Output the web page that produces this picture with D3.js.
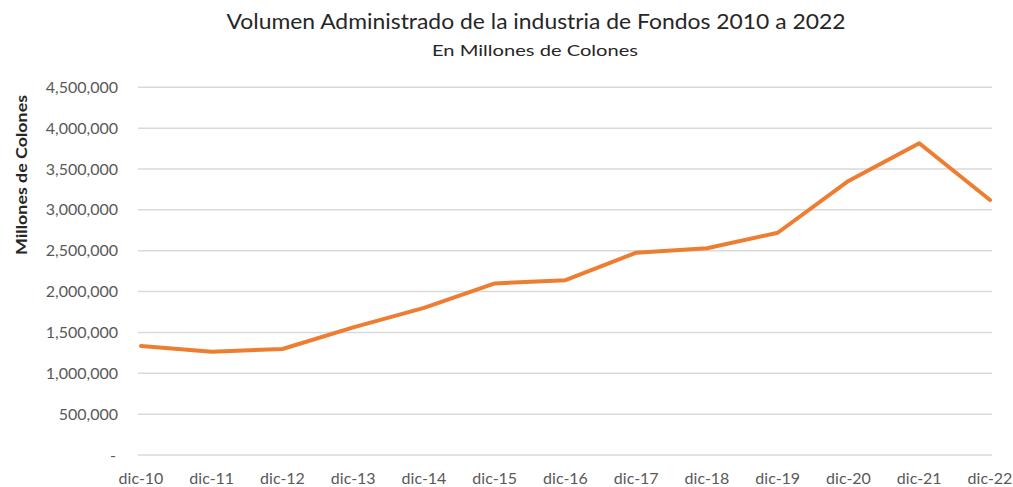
<!DOCTYPE html>
<html>
<head>
<meta charset="utf-8">
<script src="https://cdn.jsdelivr.net/npm/d3@7"></script>
<style>
body{margin:0;background:#fff;}
svg{display:block;font-family:Lato,"Open Sans",sans-serif;}
</style>
</head>
<body>
<script>
var categories=["dic-10","dic-11","dic-12","dic-13","dic-14","dic-15","dic-16","dic-17","dic-18","dic-19","dic-20","dic-21","dic-22"];
var values=[1334000,1264000,1297000,1562000,1800000,2100000,2140000,2476000,2530000,2720000,3354000,3815000,3120000];
var yTicks=[0,500000,1000000,1500000,2000000,2500000,3000000,3500000,4000000,4500000];

var width=1013;
var height=487;
var svg=d3.select("body")
    .append("svg")
    .attr("width",width)
    .attr("height",height);

var x=d3.scalePoint()
    .domain(categories)
    .range([141,990]);
var y=d3.scaleLinear()
    .domain([0,4500000])
    .range([455,87.3]);

// gridlines
svg.selectAll("line.grid")
    .data(yTicks)
    .enter()
    .append("line")
    .attr("class","grid")
    .attr("x1",138)
    .attr("x2",992)
    .attr("y1",function(d){return y(d);})
    .attr("y2",function(d){return y(d);})
    .attr("stroke","#d9d9d9")
    .attr("stroke-width",1.5);

// y tick labels
var fmt=d3.format(",");
svg.selectAll("text.ylab")
    .data(yTicks)
    .enter()
    .append("text")
    .attr("class","ylab")
    .attr("x",function(d){return d===0?116:118;})
    .attr("y",function(d){return y(d);})
    .attr("dy","0.35em")
    .attr("text-anchor","end")
    .attr("font-size","16px")
    .attr("fill","#595959")
    .text(function(d){return d===0?"-":fmt(d);});

// x tick labels
svg.selectAll("text.xlab")
    .data(categories)
    .enter()
    .append("text")
    .attr("class","xlab")
    .attr("x",function(d){return x(d);})
    .attr("y",478)
    .attr("dy","0.35em")
    .attr("text-anchor","middle")
    .attr("font-size","16px")
    .attr("fill","#595959")
    .text(function(d){return d;});

// line
var line=d3.line()
    .x(function(d,i){return x(categories[i]);})
    .y(function(d){return y(d);});
svg.append("path")
    .datum(values)
    .attr("d",line)
    .attr("fill","none")
    .attr("stroke","#ED7D31")
    .attr("stroke-width",4)
    .attr("stroke-linejoin","round")
    .attr("stroke-linecap","round");

// titles
svg.append("text")
    .attr("x",536)
    .attr("y",22)
    .attr("dy","0.35em")
    .attr("text-anchor","middle")
    .attr("font-size","21px")
    .attr("fill","#262626")
    .attr("textLength",619)
    .attr("lengthAdjust","spacingAndGlyphs")
    .text("Volumen Administrado de la industria de Fondos 2010 a 2022");
svg.append("text")
    .attr("x",535)
    .attr("y",50)
    .attr("dy","0.35em")
    .attr("text-anchor","middle")
    .attr("font-size","16px")
    .attr("fill","#262626")
    .attr("textLength",206)
    .attr("lengthAdjust","spacingAndGlyphs")
    .text("En Millones de Colones");

svg.append("text")
    .attr("transform","translate(21,175) rotate(-90)")
    .attr("dy","0.35em")
    .attr("text-anchor","middle")
    .attr("font-size","16px")
    .attr("font-weight","bold")
    .attr("fill","#262626")
    .attr("textLength",160)
    .attr("lengthAdjust","spacingAndGlyphs")
    .text("Millones de Colones");
</script>
</body>
</html>
